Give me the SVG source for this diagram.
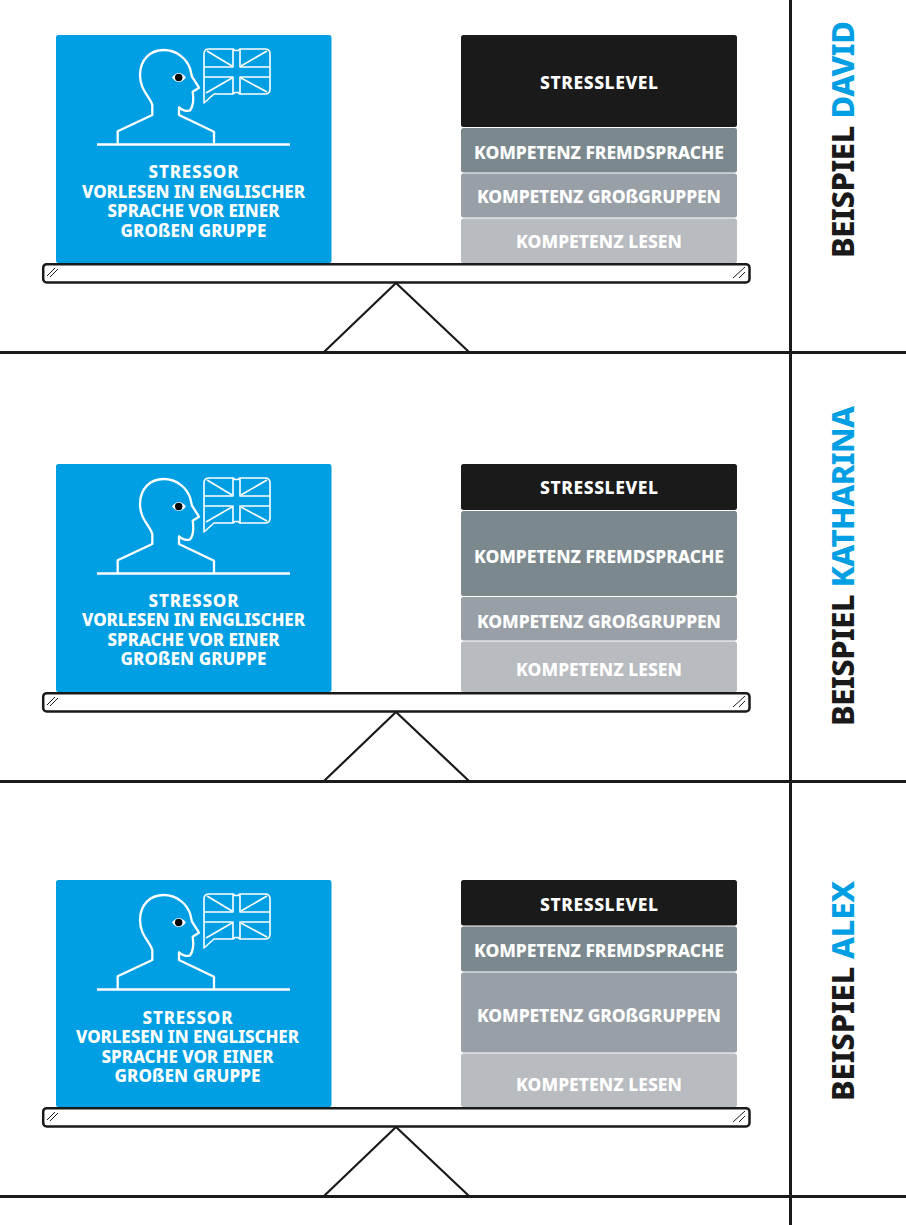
<svg xmlns="http://www.w3.org/2000/svg" width="906" height="1225" viewBox="0 0 906 1225">
<style>
text{font-family:"Noto Sans","Open Sans",sans-serif;font-weight:800}
.card{fill:#009fe3}
.c{fill:#fff;font-size:17px;text-anchor:middle}
.s{fill:#fff;font-size:17.500px;text-anchor:middle}
.ln{fill:none;stroke:#fff;stroke-width:2.300;stroke-linejoin:round}
.thin{fill:none;stroke:#fff;stroke-width:1.600;stroke-linejoin:round}
.k{fill:none;stroke:#1a1a1a;stroke-width:3}
.beam{fill:#fff;stroke:#1a1a1a;stroke-width:2.500}
.tick{stroke:#1a1a1a;stroke-width:1;fill:none}
.a{fill:#1a1a1a}.b{fill:#7b888e}.g{fill:#989fa6}.l{fill:#b8bbc0}
.t{font-size:31px;fill:#1a1a1a}
.t tspan{fill:#009fe3}
</style>
<defs>
<g id="icon">
<path class="ln" d="M97 144.500H290"/>
<path class="ln" d="M117.700 144V131.300L152.300 115V105C150 97 140 90 140 75C140 60 150 50 163.500 50C178 50 187 60 190 68.300L192 76.700L199 87.700L192.700 91.700C193.500 97 193.500 106 190 110.500C187 111.500 181 110 179 107.300V115L214 131.700V144"/>
<path d="M172 77.500Q178.700 68.500 186 77.500Q178.700 86.500 172 77.500Z" fill="#fff"/>
<circle cx="178.700" cy="77.500" r="3.700" fill="#000"/>
<path class="thin" d="M204 103V54Q204 49 209 49H233L235 50.500H238L240 49H265Q270 49 270 54V89Q270 94 265 94H240L238 92.500H235L233 94H214L204 103Z"/>
<path class="thin" d="M204 67H233V49M240 49V67H270M270 77H240V94M233 94V77H204"/>
<path class="thin" d="M207 51L232 66M267 51L241 66M206 93L232 78M267 92L241 78"/>
</g>
<g id="base">
<rect class="beam" x="43.200" y="264.200" width="706.300" height="18.300" rx="3.500"/>
<path class="tick" d="M47 276L55 268M50 277L58 269M733 278L745 267M739 278L745 272"/>
<path d="M324 352L396 283L469 352" fill="none" stroke="#1a1a1a" stroke-width="2.200"/>
</g>
</defs>
<g id="connectors">
<path class="k" d="M790.500 0V1225"/>
<path class="k" d="M0 352.500H906"/>
<path class="k" d="M0 781.500H906"/>
<path class="k" d="M0 1196.500H906"/>
</g>
<g id="example-david">
<g id="david-balance"><use href="#base"/></g>
<g id="david-stressor">
<rect class="card" x="56" y="35" width="275.500" height="228" rx="2.500"/>
<use href="#icon"/>
<text class="c"><tspan x="193.500" y="178" textLength="90">STRESSOR</tspan><tspan x="193.500" y="197.500" textLength="223">VORLESEN IN ENGLISCHER</tspan><tspan x="193.500" y="217" textLength="172">SPRACHE VOR EINER</tspan><tspan x="193.500" y="236.500" textLength="146">GROßEN GRUPPE</tspan></text>
</g>
<g id="david-stress"><rect class="a" x="461" y="35" width="276" height="92" rx="2.500"/><text class="s" x="599" y="88.500" textLength="118">STRESSLEVEL</text></g>
<g id="david-fremd"><rect class="b" x="461" y="128" width="276" height="44.500" rx="2.500"/><text class="s" x="599" y="158.500" textLength="250">KOMPETENZ FREMDSPRACHE</text></g>
<g id="david-gross"><rect class="g" x="461" y="173.500" width="276" height="44" rx="2.500"/><text class="s" x="599" y="202.500" textLength="244">KOMPETENZ GROßGRUPPEN</text></g>
<g id="david-lesen"><rect class="l" x="461" y="218.500" width="276" height="44.500" rx="2.500"/><text class="s" x="599" y="247.500" textLength="166">KOMPETENZ LESEN</text></g>
<text id="david-title" class="t" transform="translate(854 258) rotate(-90)" textLength="237">BEISPIEL <tspan>DAVID</tspan></text>
</g>
<g id="example-katharina">
<g id="katharina-balance"><use href="#base" y="429"/></g>
<g id="katharina-stressor">
<rect class="card" x="56" y="464" width="275.500" height="228" rx="2.500"/>
<use href="#icon" y="429"/>
<text class="c"><tspan x="193.500" y="606.500" textLength="90">STRESSOR</tspan><tspan x="193.500" y="626" textLength="223">VORLESEN IN ENGLISCHER</tspan><tspan x="193.500" y="645.500" textLength="172">SPRACHE VOR EINER</tspan><tspan x="193.500" y="665" textLength="146">GROßEN GRUPPE</tspan></text>
</g>
<g id="katharina-stress"><rect class="a" x="461" y="464" width="276" height="46" rx="2.500"/><text class="s" x="599" y="493.500" textLength="118">STRESSLEVEL</text></g>
<g id="katharina-fremd"><rect class="b" x="461" y="511" width="276" height="85" rx="2.500"/><text class="s" x="599" y="562.500" textLength="250">KOMPETENZ FREMDSPRACHE</text></g>
<g id="katharina-gross"><rect class="g" x="461" y="597" width="276" height="43.500" rx="2.500"/><text class="s" x="599" y="627.500" textLength="244">KOMPETENZ GROßGRUPPEN</text></g>
<g id="katharina-lesen"><rect class="l" x="461" y="641.500" width="276" height="50.500" rx="2.500"/><text class="s" x="599" y="675.500" textLength="166">KOMPETENZ LESEN</text></g>
<text id="katharina-title" class="t" transform="translate(854 726) rotate(-90)" textLength="320">BEISPIEL <tspan>KATHARINA</tspan></text>
</g>
<g id="example-alex">
<g id="alex-balance"><use href="#base" y="844"/></g>
<g id="alex-stressor">
<rect class="card" x="56" y="880" width="275.500" height="227" rx="2.500"/>
<use href="#icon" y="845"/>
<text class="c"><tspan x="187.500" y="1023.500" textLength="90">STRESSOR</tspan><tspan x="187.500" y="1043" textLength="223">VORLESEN IN ENGLISCHER</tspan><tspan x="187.500" y="1062.500" textLength="172">SPRACHE VOR EINER</tspan><tspan x="187.500" y="1082" textLength="146">GROßEN GRUPPE</tspan></text>
</g>
<g id="alex-stress"><rect class="a" x="461" y="880" width="276" height="45.500" rx="2.500"/><text class="s" x="599" y="910.500" textLength="118">STRESSLEVEL</text></g>
<g id="alex-fremd"><rect class="b" x="461" y="926.500" width="276" height="45" rx="2.500"/><text class="s" x="599" y="956.500" textLength="250">KOMPETENZ FREMDSPRACHE</text></g>
<g id="alex-gross"><rect class="g" x="461" y="972.500" width="276" height="80" rx="2.500"/><text class="s" x="599" y="1021.500" textLength="244">KOMPETENZ GROßGRUPPEN</text></g>
<g id="alex-lesen"><rect class="l" x="461" y="1053.500" width="276" height="53.500" rx="2.500"/><text class="s" x="599" y="1090.500" textLength="166">KOMPETENZ LESEN</text></g>
<text id="alex-title" class="t" transform="translate(854 1101) rotate(-90)" textLength="220">BEISPIEL <tspan>ALEX</tspan></text>
</g>
</svg>
